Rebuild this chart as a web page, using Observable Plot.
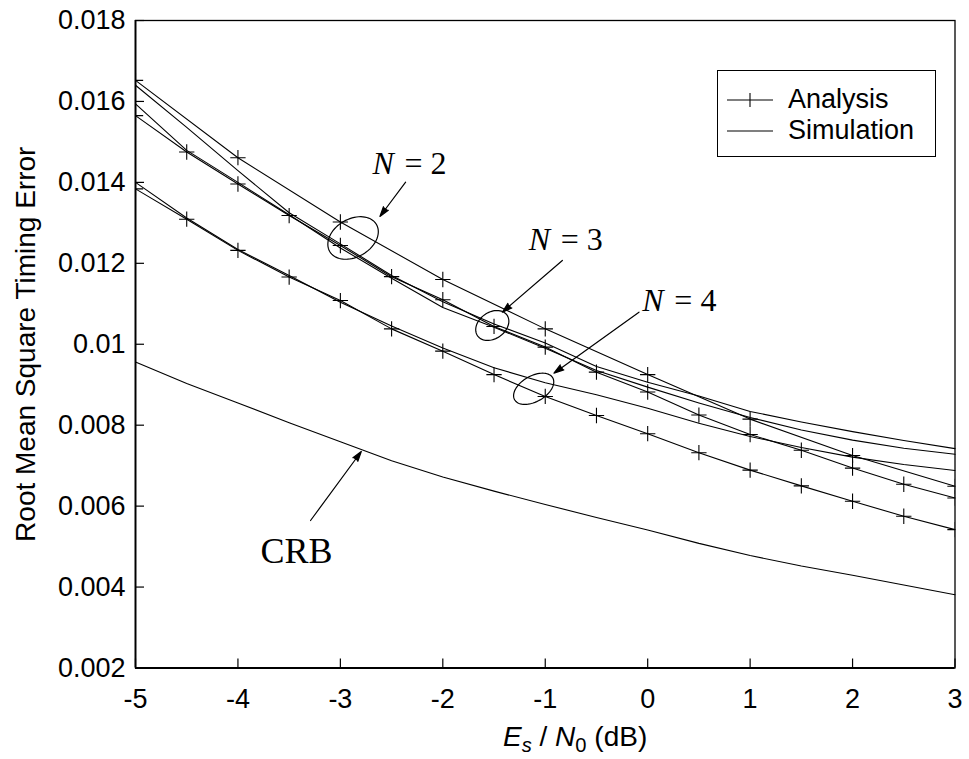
<!DOCTYPE html>
<html>
<head>
<meta charset="utf-8">
<script src="https://cdn.jsdelivr.net/npm/d3@7"></script>
<script src="https://cdn.jsdelivr.net/npm/@observablehq/plot@0.6"></script>
<style>
  html, body { margin: 0; padding: 0; background: #fff; }
  #wrap { position: relative; width: 969px; height: 759px; font-family: "Liberation Sans", Arial, sans-serif; color: #000; }
  .legend { position: absolute; left: 717px; top: 70px; width: 219px; height: 87px; border: 1px solid #000; background: #fff; box-sizing: border-box; }
  .legend svg { position: absolute; left: 9px; }
  .legend .lbl { position: absolute; left: 70px; font-size: 27px; line-height: 27px; white-space: nowrap; }
  .xtitle { position: absolute; left: 503px; top: 723px; font-size: 28px; line-height: 28px; white-space: nowrap; }
  .sub { font-size: 0.72em; position: relative; top: 0.32em; }
</style>
</head>
<body>
<div id="wrap"></div>
<script>
// ---------- data ----------
const snr = [-5, -4.5, -4, -3.5, -3, -2.5, -2, -1.5, -1, -0.5, 0, 0.5, 1, 1.5, 2, 2.5, 3];
const snrInt = [-5, -4, -3, -2, -1, 0, 1, 2, 3];

const analysisN2 = [0.01652, 0.01461, 0.01302, 0.01160, 0.01038, 0.00925, 0.00815, 0.00725, 0.00649];
const analysisN3 = [0.01565, 0.01475, 0.01396, 0.01318, 0.01244, 0.01167, 0.01110, 0.01044, 0.00993, 0.00931, 0.00882, 0.00825, 0.00777, 0.00738, 0.00694, 0.00654, 0.00620];
const analysisN4 = [0.01384, 0.01309, 0.01232, 0.01166, 0.01108, 0.01038, 0.00983, 0.00925, 0.00871, 0.00824, 0.00779, 0.00732, 0.00689, 0.00650, 0.00612, 0.00575, 0.00542];

const simulationN2 = [0.01640, 0.01536, 0.01429, 0.01325, 0.01248, 0.01170, 0.01105, 0.01050, 0.01003, 0.00945, 0.00906, 0.00872, 0.00834, 0.00808, 0.00784, 0.00762, 0.00742];
const simulationN3 = [0.01594, 0.01479, 0.01400, 0.01320, 0.01238, 0.01163, 0.01091, 0.01042, 0.00990, 0.00935, 0.00894, 0.00855, 0.00819, 0.00788, 0.00763, 0.00743, 0.00728];
const simulationN4 = [0.01400, 0.01312, 0.01234, 0.01170, 0.01104, 0.01045, 0.00991, 0.00942, 0.00905, 0.00875, 0.00842, 0.00805, 0.00772, 0.00745, 0.00721, 0.00703, 0.00688];

const crb = [0.00956, 0.00903, 0.00855, 0.00806, 0.00759, 0.00712, 0.00672, 0.00637, 0.00604, 0.00572, 0.00541, 0.00508, 0.00478, 0.00452, 0.00429, 0.00405, 0.00381];

const xTicks = [-5, -4, -3, -2, -1, 0, 1, 2, 3];
const yTicks = [0.002, 0.004, 0.006, 0.008, 0.01, 0.012, 0.014, 0.016, 0.018];

// annotations (data coordinates)
const groupNames = ["2", "3", "4"];
const groupLabelX = [-2.686, -1.162, -0.052];
const groupLabelY = [0.01447, 0.01257, 0.011086];
const arrowFromX = [-2.363, -0.833, -0.085, -3.291];
const arrowFromY = [0.014005, 0.01207, 0.010792, 0.005645];
const arrowToX = [-2.614, -1.419, -0.915, -2.796];
const arrowToY = [0.013157, 0.010792, 0.009285, 0.00735];
const ellipseX = [-2.876, -1.517, -1.113];
const ellipseY = [0.012626, 0.010464, 0.008899];
const ellipseRx = [27, 18, 22];
const ellipseRy = [19, 13.2, 12.8];
const ellipseTilt = [-30, -35, -30];
const crbLabel = {x: -3.779, y: 0.00489, text: "CRB"};

// ---------- layout ----------
const W = 969, H = 759;
const mL = 135, mR = 14.5, mT = 20, mB = 91.5;
const plotW = W - mL - mR, plotH = H - mT - mB;

const rows = (xs, ys, series) => xs.map((x, i) => ({x, y: ys[i], series}));
const lineRows = [
  ...rows(snrInt, analysisN2, "aN2"),
  ...rows(snr, analysisN3, "aN3"),
  ...rows(snr, analysisN4, "aN4"),
  ...rows(snr, simulationN2, "sN2"),
  ...rows(snr, simulationN3, "sN3"),
  ...rows(snr, simulationN4, "sN4"),
  ...rows(snr, crb, "crb")
];
const markerRows = [
  ...rows(snrInt, analysisN2, "aN2"),
  ...rows(snr, analysisN3, "aN3"),
  ...rows(snr, analysisN4, "aN4")
];
const labels = groupNames.map((n, i) => ({n, x: groupLabelX[i], y: groupLabelY[i]}));
const arrows = arrowFromX.map((x, i) => ({x1: x, y1: arrowFromY[i], x2: arrowToX[i], y2: arrowToY[i]}));

function ellipseSymbol(a, b, deg) {
  const t = deg * Math.PI / 180, c = Math.cos(t), s = Math.sin(t);
  return {
    draw(ctx) {
      const n = 72;
      for (let k = 0; k <= n; k++) {
        const u = 2 * Math.PI * k / n;
        const ex = a * Math.cos(u), ey = b * Math.sin(u);
        const px = ex * c - ey * s, py = ex * s + ey * c;
        if (k === 0) ctx.moveTo(px, py); else ctx.lineTo(px, py);
      }
      ctx.closePath();
    }
  };
}
const ellipseMarks = ellipseX.map((x, i) =>
  Plot.dot([{x, y: ellipseY[i]}], {
    x: "x", y: "y",
    symbol: ellipseSymbol(ellipseRx[i], ellipseRy[i], ellipseTilt[i]),
    fill: "none", stroke: "#000", strokeWidth: 1.2
  })
);

const serif = "'Liberation Serif', 'Times New Roman', serif";

const chart = Plot.plot({
  width: W, height: H,
  marginLeft: mL, marginRight: mR, marginTop: mT, marginBottom: mB,
  style: {fontFamily: "'Liberation Sans', Arial, sans-serif", fontSize: "27px", color: "#000", background: "#fff", overflow: "visible"},
  x: {domain: [-5, 3], ticks: xTicks, tickSize: 0, tickPadding: 21, label: null, tickFormat: d => String(d)},
  y: {domain: [0.002, 0.018], ticks: yTicks, tickSize: 0, tickPadding: 10, label: null, tickFormat: d => String(d)},
  marks: [
    Plot.line(lineRows, {x: "x", y: "y", z: "series", stroke: "#000", strokeWidth: 1.1}),
    Plot.dot(markerRows, {x: "x", y: "y", symbol: "plus", r: 5, stroke: "#000", strokeWidth: 1.1, clip: true}),
    ...ellipseMarks,
    Plot.arrow(arrows, {x1: "x1", y1: "y1", x2: "x2", y2: "y2", headLength: 13, headAngle: 34, stroke: "#000", fill: "#000", strokeWidth: 1.2}),
    Plot.text(labels, {x: "x", y: "y", text: () => "N", textAnchor: "start", fontFamily: serif, fontStyle: "italic", fontSize: 32, fill: "#000"}),
    Plot.text(labels, {x: "x", y: "y", text: d => "= " + d.n, textAnchor: "start", dx: 32, fontFamily: serif, fontSize: 32, fill: "#000"}),
    Plot.text([crbLabel], {x: "x", y: "y", text: "text", textAnchor: "start", fontFamily: serif, fontSize: 36, fill: "#000"}),
    Plot.text(["Root Mean Square Timing Error"], {frameAnchor: "left", textAnchor: "middle", rotate: -90, dx: -109, fontSize: 28, fill: "#000"}),
    Plot.ruleX(xTicks, {x: d => d, insetTop: plotH - 9, stroke: "#000", strokeWidth: 1.2}),
    Plot.ruleY(yTicks, {y: d => d, insetRight: plotW - 9, stroke: "#000", strokeWidth: 1.2}),
    Plot.frame({stroke: "#000", strokeWidth: 1.3}),
    Plot.ruleX([-5], {stroke: "#000", strokeWidth: 1.8}),
    Plot.ruleY([0.002], {stroke: "#000", strokeWidth: 1.8})
  ]
});

const wrap = document.getElementById("wrap");
wrap.appendChild(chart);

// x-axis title
const xt = document.createElement("div");
xt.className = "xtitle";
xt.innerHTML = '<i>E</i><span class="sub"><i>s</i></span> / <i>N</i><span class="sub">0</span> (dB)';
wrap.appendChild(xt);

// legend
const lg = document.createElement("div");
lg.className = "legend";
lg.innerHTML = `
  <svg width="46" height="20" style="top:19px"><line x1="0" x2="46" y1="10" y2="10" stroke="#000" stroke-width="1.1"/><line x1="23" x2="23" y1="3" y2="17" stroke="#000" stroke-width="1.1"/></svg>
  <div class="lbl" style="top:15px">Analysis</div>
  <svg width="46" height="20" style="top:50px"><line x1="0" x2="46" y1="10" y2="10" stroke="#000" stroke-width="1.1"/></svg>
  <div class="lbl" style="top:46px">Simulation</div>`;
wrap.appendChild(lg);
</script>
</body>
</html>
